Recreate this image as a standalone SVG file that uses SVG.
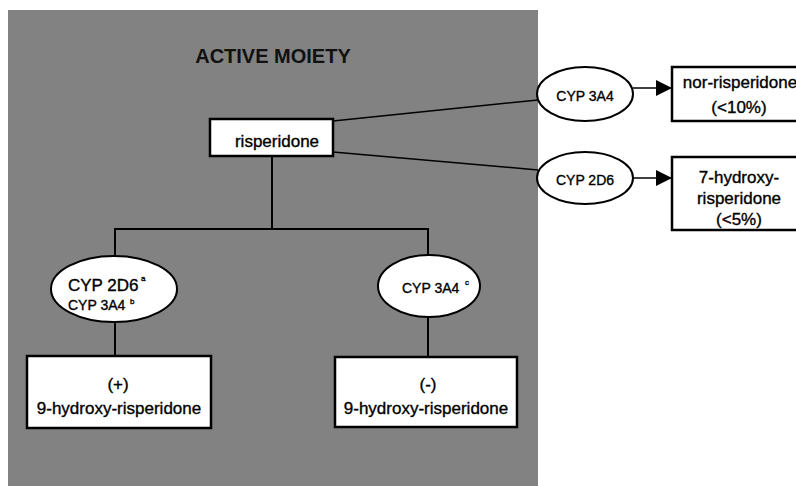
<svg xmlns="http://www.w3.org/2000/svg" width="796" height="486" viewBox="0 0 796 486">
<style>
  text { font-family: "Liberation Sans", Arial, sans-serif; fill: #000; stroke: #000; stroke-width: 0.35; }
  .t17 { font-size: 17px; }
  .t14 { font-size: 14px; }
  .sup { font-size: 8px; }
  .title { font-size: 20px; font-weight: bold; stroke: none; fill: #111; }
  .box { fill: #fff; stroke: #000; stroke-width: 2.5; }
  .ell { fill: #fff; stroke: #000; stroke-width: 2; }
  .conn line { stroke: #000; stroke-width: 2; }
  .thin { stroke-width: 1.5 !important; }
</style>
<defs>
  <marker id="arrowBig" markerWidth="16" markerHeight="16" refX="16" refY="8" orient="auto" markerUnits="userSpaceOnUse" viewBox="0 0 16 16">
    <path d="M0,0 L16,8 L0,16 z" fill="#000"/>
  </marker>
</defs>
<rect width="796" height="486" fill="#fff"/>
<rect id="panel" x="8" y="10" width="530" height="476" fill="#828282"/>
<text class="title" x="273" y="63" text-anchor="middle">ACTIVE MOIETY</text>

<g class="conn" id="connectors">
  <line x1="272" y1="156" x2="272" y2="229"/>
  <line x1="114" y1="229" x2="429" y2="229"/>
  <line x1="115" y1="229" x2="115" y2="256"/>
  <line x1="428" y1="229" x2="428" y2="256"/>
  <line x1="115" y1="322" x2="115" y2="357"/>
  <line x1="428" y1="317" x2="428" y2="357"/>
  <line class="thin" x1="333" y1="121" x2="538" y2="100"/>
  <line class="thin" x1="333" y1="152" x2="538" y2="170"/>
  <line class="thin" x1="633" y1="88" x2="672" y2="88" marker-end="url(#arrowBig)"/>
  <line class="thin" x1="633" y1="178" x2="672" y2="178" marker-end="url(#arrowBig)"/>
</g>

<g id="risperidone">
  <rect class="box" x="210" y="119" width="123" height="37"/>
  <text class="t17" x="277" y="147" text-anchor="middle">risperidone</text>
</g>

<g id="cyp2d6-left">
  <ellipse class="ell" cx="114" cy="289" rx="63" ry="33"/>
  <text class="t17" x="68" y="291">CYP 2D6</text>
  <text class="sup" x="141" y="281">a</text>
  <text class="t14" x="68" y="310">CYP 3A4</text>
  <text class="sup" x="130" y="304">b</text>
</g>

<g id="cyp3a4-right">
  <ellipse class="ell" cx="429" cy="286" rx="51" ry="31"/>
  <text class="t14" x="402" y="293">CYP 3A4</text>
  <text class="sup" x="465" y="285">c</text>
</g>

<g id="plus-9oh">
  <rect class="box" x="27" y="356" width="184" height="72"/>
  <text class="t17" x="118" y="390" text-anchor="middle">(+)</text>
  <text class="t17" x="119" y="414" text-anchor="middle">9-hydroxy-risperidone</text>
</g>

<g id="minus-9oh">
  <rect class="box" x="335" y="357" width="182" height="70"/>
  <text class="t17" x="428" y="390" text-anchor="middle">(-)</text>
  <text class="t17" x="426" y="414" text-anchor="middle">9-hydroxy-risperidone</text>
</g>

<g id="cyp3a4-nor">
  <ellipse class="ell" cx="585" cy="94" rx="48" ry="27"/>
  <text class="t14" x="585" y="101" text-anchor="middle">CYP 3A4</text>
</g>

<g id="cyp2d6-7oh">
  <ellipse class="ell" cx="585" cy="178" rx="48" ry="26"/>
  <text class="t14" x="585" y="185" text-anchor="middle">CYP 2D6</text>
</g>

<g id="nor-risperidone">
  <rect class="box" x="672" y="67" width="140" height="54"/>
  <text class="t17" x="740" y="88" text-anchor="middle">nor-risperidone</text>
  <text class="t17" x="739" y="113" text-anchor="middle">(&lt;10%)</text>
</g>

<g id="hydroxy7">
  <rect class="box" x="672" y="157" width="140" height="73"/>
  <text class="t17" x="739" y="183" text-anchor="middle">7-hydroxy-</text>
  <text class="t17" x="739" y="204" text-anchor="middle">risperidone</text>
  <text class="t17" x="739" y="225" text-anchor="middle">(&lt;5%)</text>
</g>
</svg>
